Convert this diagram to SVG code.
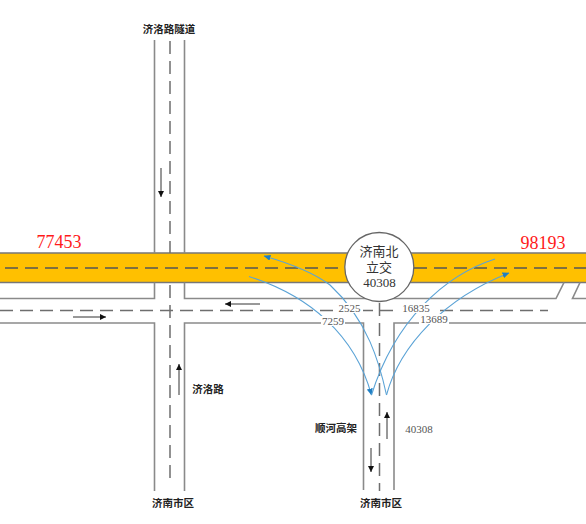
<svg xmlns="http://www.w3.org/2000/svg" width="586" height="524" viewBox="0 0 586 524">
<style>
.edge{stroke:#8a8a8a;stroke-width:1.6;fill:none}
.dash{stroke:#6e6e6e;stroke-width:1.5;fill:none;stroke-dasharray:13 7}
.arr{stroke:#333;stroke-width:1;fill:none;marker-end:url(#ab)}
.flow{stroke:#5ba3d6;stroke-width:1.1;fill:none}
.cj{font-family:"Noto Sans CJK SC",sans-serif;font-size:10.5px;font-weight:700;fill:#222;text-anchor:middle}
.num{font-family:"Liberation Serif",serif;font-size:11px;fill:#555;text-anchor:middle}
.big{font-family:"Liberation Serif",serif;font-size:18px;fill:#ff1a1a;text-anchor:middle}
.lab{fill:#fff;stroke:none}
</style>
<defs>
<marker id="ab" markerWidth="7" markerHeight="6" refX="6" refY="3" orient="auto" markerUnits="userSpaceOnUse"><path d="M0 0L6 3L0 6Z" fill="#111"/></marker>
<marker id="fb" markerWidth="7" markerHeight="6" refX="6.500" refY="3" orient="auto" markerUnits="userSpaceOnUse"><path d="M0 0L7 3L0 6Z" fill="#1f7fc4"/></marker>
</defs>
<rect width="586" height="524" fill="#fff"/>
<g id="roads">
<rect x="0" y="253" width="586" height="29.500" fill="#ffc000"/>
<path class="edge" d="M0 253H586M0 282.500H586" style="stroke:#777"/>
<path class="edge" d="M154.500 40V253M184.500 40V253M154.500 282.500V298.500H0M184.500 282.500V298.500H556L564 282.500M580 282.500L572.500 298.500H586"/>
<path class="edge" d="M0 323H154.500V491M184.500 491V323H363.500V490M394 490V323H586"/>
<path class="dash" d="M5 268H350M414 268H586" style="stroke:#555"/>
<path class="dash" d="M0 310.500H548"/>
<path class="dash" d="M170 41V253M170 285V485"/>
<path class="dash" d="M379.500 303V491"/>
</g>
<g id="connectors">
<path class="arr" d="M73 317H106"/>
<path class="arr" d="M260 304H225"/>
<path class="arr" d="M161 168V197"/>
<path class="arr" d="M179 395V364"/>
<path class="arr" d="M387 439V412"/>
<path class="arr" d="M371 448V472"/>
<path class="flow" d="M249 276.500C310 296 355 335 371.500 395" marker-end="url(#fb)"/>
<path class="flow" d="M495 259C445 275 395 320 371.500 395"/>
<path class="flow" d="M386.500 395C380 365 368 320 330 285C310 270 285 262 264 256" marker-end="url(#fb)"/>
<path class="flow" d="M386.500 395C400 345 445 298 509 273" marker-end="url(#fb)"/>
</g>
<g id="node-interchange">
<circle cx="379.300" cy="267" r="34.500" fill="#fff" stroke="#666" stroke-width="1.300"/>
<text x="379" y="255.500" font-family="'Noto Sans CJK SC',sans-serif" font-size="13px" fill="#333" text-anchor="middle">济南北<tspan x="379" dy="16">立交</tspan></text>
<text x="379.500" y="286.500" font-family="'Liberation Serif',serif" font-size="13px" fill="#333" text-anchor="middle">40308</text>
</g>
<g id="flow-labels">
<rect class="lab" x="336" y="303" width="27" height="10"/><text class="num" x="349.500" y="312">2525</text>
<rect class="lab" x="399" y="303" width="34" height="10"/><text class="num" x="416" y="312">16835</text>
<rect class="lab" x="321" y="316" width="24" height="10"/><text class="num" x="333" y="325">7259</text>
<rect class="lab" x="419" y="314" width="30" height="10"/><text class="num" x="434" y="323">13689</text>
</g>
<g id="labels">
<text class="cj" x="169" y="33">济洛路隧道</text>
<text class="cj" x="173" y="507">济南市区</text>
<text class="cj" x="381" y="507">济南市区</text>
<text class="cj" x="208" y="393">济洛路</text>
<text class="cj" x="336" y="432">顺河高架</text>
<text class="num" x="419" y="433">40308</text>
<text class="big" x="59" y="248">77453</text>
<text class="big" x="543" y="249">98193</text>
</g>
</svg>
